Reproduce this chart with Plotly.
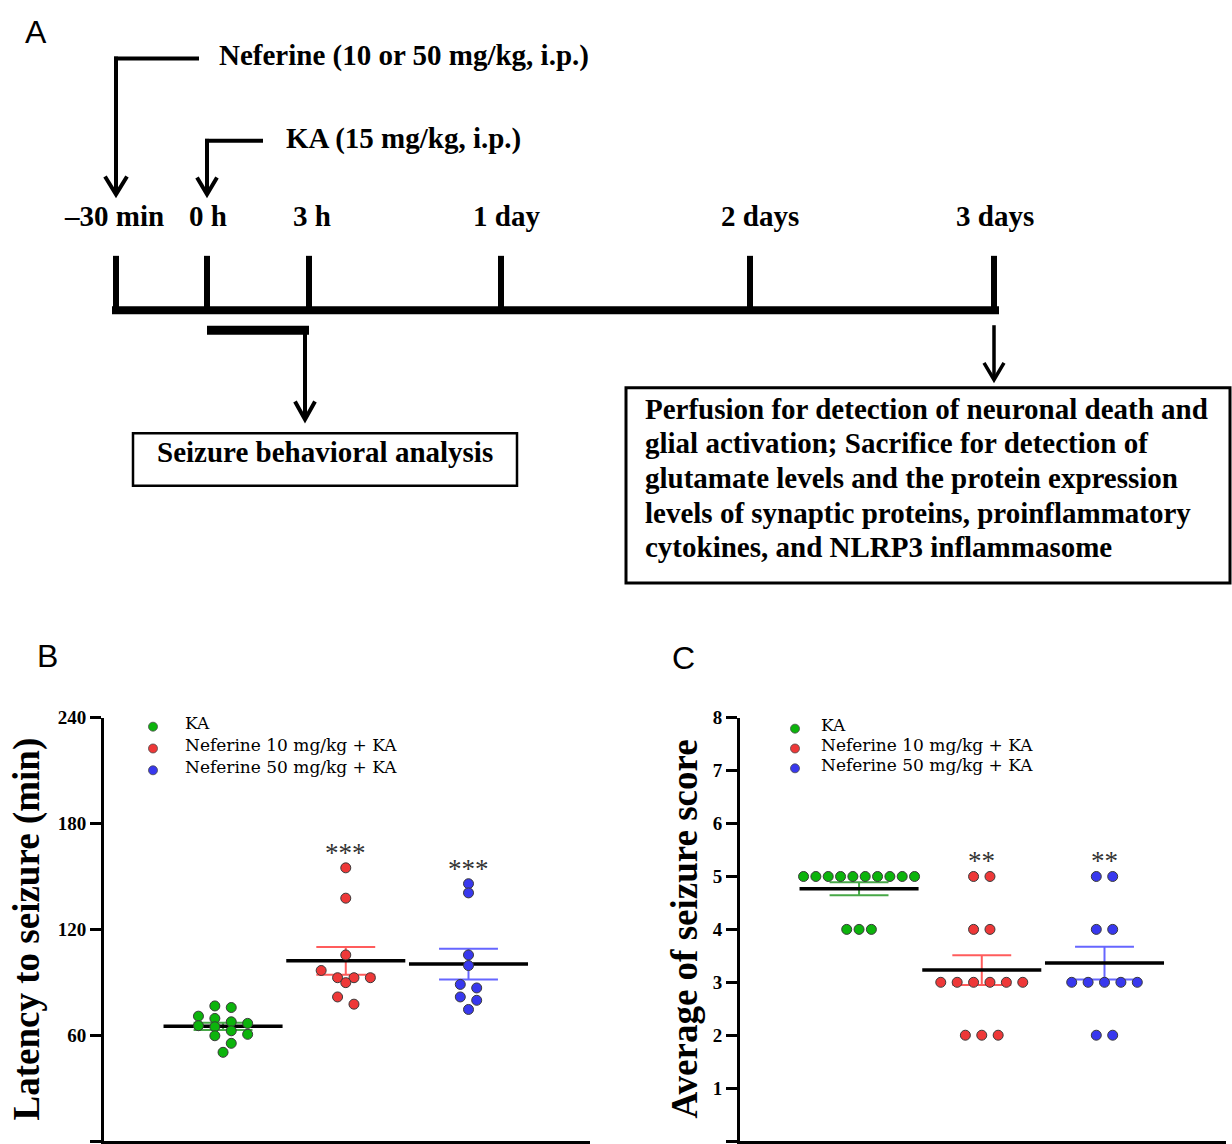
import numpy as np
import plotly.graph_objects as go

# ---------------- data ----------------
groups = ["KA", "Neferine 10 mg/kg + KA", "Neferine 50 mg/kg + KA"]

latency_ka = [76.6, 75.7, 70.8, 69.5, 67.6, 66.7, 65.4, 64.8, 62.5, 60.5, 59.7, 55.4, 50.3]
latency_nef10 = [154.9, 137.7, 105.5, 96.7, 92.6, 92.6, 92.6, 89.8, 81.7, 77.6]
latency_nef50 = [145.9, 140.7, 105.5, 99.5, 88.8, 86.8, 81.7, 79.8, 74.6]

score_ka = [5, 5, 5, 5, 5, 5, 5, 5, 5, 5, 4, 4, 4]
score_nef10 = [5, 5, 4, 4, 3, 3, 3, 3, 3, 3, 2, 2, 2]
score_nef50 = [5, 5, 4, 4, 3, 3, 3, 3, 3, 2, 2]

latency_ticks = [0, 60, 120, 180, 240]
score_ticks = [0, 1, 2, 3, 4, 5, 6, 7, 8]
latency_sig = ["", "***", "***"]
score_sig = ["", "**", "**"]

timeline_labels = ["\u201330 min", "0 h", "3 h", "1 day", "2 days", "3 days"]
box_lines = [
    "Perfusion for detection of neuronal death and",
    "glial activation; Sacrifice for detection of",
    "glutamate levels and the protein expression",
    "levels of synaptic proteins, proinflammatory",
    "cytokines, and NLRP3 inflammasome",
]

# ---------------- styling / layout ----------------
W, H = 1232, 1144
colors = ["#0CB40C", "#EE3838", "#3838EE"]
err_colors = ["#48A848", "#FF5C5C", "#6666FF"]
SERIF = "Liberation Serif"
WIDE_SERIF = "DejaVu Serif"
SANS = "Liberation Sans"


def fx(x):
    return x / W


def fy(y):
    return 1 - y / H


fig = go.Figure()
shapes = []
annotations = []


def seg(x0, y0, x1, y1, w, color="black"):
    shapes.append(dict(type="line", xref="paper", yref="paper",
                       x0=fx(x0), y0=fy(y0), x1=fx(x1), y1=fy(y1),
                       line=dict(color=color, width=w)))


def vhead(xt, yt, dx, dy, w):
    path = "M {} {} L {} {} L {} {}".format(fx(xt - dx), fy(yt - dy), fx(xt), fy(yt), fx(xt + dx), fy(yt - dy))
    shapes.append(dict(type="path", xref="paper", yref="paper", path=path,
                       line=dict(color="black", width=w)))


def rect(x0, y0, x1, y1, w):
    shapes.append(dict(type="rect", xref="paper", yref="paper",
                       x0=fx(x0), y0=fy(y1), x1=fx(x1), y1=fy(y0),
                       line=dict(color="black", width=w), fillcolor="rgba(0,0,0,0)"))


def text(x, y, s, size, family=SERIF, bold=True, xanchor="left", angle=0, color="black"):
    # shift so that the visual centre of the glyphs sits on y
    dy = 0 if angle else -0.27 * size
    annotations.append(dict(xref="paper", yref="paper", x=fx(x), y=fy(y + dy), text=s,
                            showarrow=False, xanchor=xanchor, yanchor="middle",
                            textangle=angle,
                            font=dict(family=family, size=size, color=color,
                                      weight="bold" if bold else "normal")))


# ---------- Panel A (schematic) ----------
text(36, 31, "A", 32, family=SANS, bold=False, xanchor="center")

seg(114, 49, 199, 49, 4)
seg(116, 47, 116, 183, 4)
vhead(116, 186, 11, 18, 4)
text(217, 54, "Neferine (10 or 50 mg/kg, i.p.)", 29)

seg(205, 132, 263, 132, 4)
seg(207, 130, 207, 183, 4)
vhead(207, 186, 10, 17, 4)
text(284, 137, "KA (15 mg/kg, i.p.)", 29)

tick_x = [116, 207, 309, 501, 750, 994]
label_x = [114, 208, 312, 506, 760, 995]
seg(112, 303, 999, 303, 8)
for tx, lx, lab in zip(tick_x, label_x, timeline_labels):
    seg(tx, 248, tx, 303, 6)
    text(lx, 216, lab, 29, xanchor="center")

seg(207, 323, 309, 323, 9)
seg(305, 320, 305, 410, 4)
vhead(305, 413, 10, 18, 4)
rect(133, 427, 517, 480, 2.5)
text(325, 454, "Seizure behavioral analysis", 29, xanchor="center")

seg(994, 318, 994, 370, 3.5)
vhead(994, 373, 10, 17, 3.5)
rect(626, 381, 1230, 578, 3)
for k, line in enumerate(box_lines):
    text(643, 410 + 35 * k, line, 29)

# ---------- Panels B and C ----------
XR = [-0.97, 2.99]
PLOT_TOP, PLOT_BOTTOM = 714, 1141

panels = [
    dict(xa="x", ya="y", xkey="xaxis", ykey="yaxis", left=104, right=590,
         data=[latency_ka, latency_nef10, latency_nef50], sig=latency_sig,
         ticks=latency_ticks, title="Latency to seizure (min)", title_x=27,
         label="B", label_xy=(47, 660),
         leg_mx=153, leg_tx=183, leg_y=[723, 745, 767]),
    dict(xa="x2", ya="y2", xkey="xaxis2", ykey="yaxis2", left=740, right=1226,
         data=[score_ka, score_nef10, score_nef50], sig=score_sig,
         ticks=score_ticks, title="Average of seizure score", title_x=684,
         label="C", label_xy=(683, 662),
         leg_mx=795, leg_tx=819, leg_y=[725, 745, 765]),
]


def swarm_offsets(vals, px_per_unit, units_per_px_x, thresh_px=9.0, step_px=16.4, max_w_px=111.0):
    n = len(vals)
    order = sorted(range(n), key=lambda i: -vals[i])
    rows, cur, first = [], [order[0]], vals[order[0]]
    for i in order[1:]:
        if (first - vals[i]) * px_per_unit < thresh_px:
            cur.append(i)
        else:
            rows.append(cur)
            cur, first = [i], vals[i]
    rows.append(cur)
    maxn = max(len(r) for r in rows)
    step = step_px if maxn < 2 else min(step_px, max_w_px / (maxn - 1))
    offs = [0.0] * n
    for r in rows:
        k = len(r)
        for j, i in enumerate(r):
            offs[i] = (j - (k - 1) / 2) * step * units_per_px_x
    return offs


for p in panels:
    ymax = p["ticks"][-1]
    px_per_unit = (PLOT_BOTTOM - PLOT_TOP) / ymax
    units_per_px_x = (XR[1] - XR[0]) / (p["right"] - p["left"])
    for gi, vals in enumerate(p["data"]):
        v = np.array(vals, dtype=float)
        m = v.mean()
        sem = v.std(ddof=1) / np.sqrt(len(v))
        cap = 0.24
        fig.add_trace(go.Scatter(
            x=[gi, gi, None, gi - cap, gi + cap, None, gi - cap, gi + cap],
            y=[m - sem, m + sem, None, m + sem, m + sem, None, m - sem, m - sem],
            mode="lines", line=dict(color=err_colors[gi], width=2),
            xaxis=p["xa"], yaxis=p["ya"], showlegend=False, hoverinfo="skip"))
        fig.add_trace(go.Scatter(
            x=[gi - 0.485, gi + 0.485], y=[m, m], mode="lines",
            line=dict(color="black", width=3.5),
            xaxis=p["xa"], yaxis=p["ya"], showlegend=False, hoverinfo="skip"))
    for gi, vals in enumerate(p["data"]):
        offs = swarm_offsets(vals, px_per_unit, units_per_px_x)
        fig.add_trace(go.Scatter(
            x=[gi + o for o in offs], y=vals, mode="markers", name=groups[gi],
            marker=dict(size=10, color=colors[gi], line=dict(color="#3a3a3a", width=1)),
            xaxis=p["xa"], yaxis=p["ya"], showlegend=False))
        if p["sig"][gi]:
            annotations.append(dict(xref=p["xa"], yref=p["ya"], x=gi, y=max(vals),
                                    text=p["sig"][gi], showarrow=False, yshift=15,
                                    xanchor="center", yanchor="middle",
                                    font=dict(family=SERIF, size=27, color="#333333")))
    for gi, g in enumerate(groups):
        yl = p["leg_y"][gi]
        shapes.append(dict(type="circle", xref="paper", yref="paper",
                           xsizemode="pixel", ysizemode="pixel",
                           xanchor=fx(p["leg_mx"]), yanchor=fy(yl),
                           x0=-4.5, x1=4.5, y0=-4.5, y1=4.5,
                           fillcolor=colors[gi], line=dict(color="#4a4a4a", width=0.8)))
        text(p["leg_tx"], yl + 1, g, 17, family=WIDE_SERIF, bold=False)
    text(p["title_x"], (PLOT_TOP + PLOT_BOTTOM) / 2, p["title"], 37, xanchor="center", angle=-90)
    text(p["label_xy"][0], p["label_xy"][1], p["label"], 32, family=SANS, bold=False, xanchor="center")

    fig.layout[p["xkey"]] = dict(
        domain=[fx(p["left"]), fx(p["right"])], range=XR, anchor=p["ya"],
        showline=True, linecolor="black", linewidth=3, showticklabels=False,
        ticks="", showgrid=False, zeroline=False, fixedrange=True)
    fig.layout[p["ykey"]] = dict(
        domain=[fy(PLOT_BOTTOM), fy(PLOT_TOP)], range=[0, ymax], anchor=p["xa"],
        tickvals=p["ticks"], ticks="outside", ticklen=11, tickwidth=3, tickcolor="black",
        showline=True, linecolor="black", linewidth=3, showgrid=False, zeroline=False,
        tickfont=dict(family=SERIF, size=19, color="black", weight="bold"), fixedrange=True)

fig.update_layout(
    width=W, height=H, margin=dict(l=0, r=0, t=0, b=0),
    paper_bgcolor="white", plot_bgcolor="rgba(0,0,0,0)",
    showlegend=False, shapes=shapes, annotations=annotations)

post = ("document.documentElement.style.margin='0';"
        "document.documentElement.style.overflow='hidden';"
        "document.body.style.margin='0';document.body.style.padding='0';"
        "document.body.style.overflow='hidden';"
        "var gd=document.getElementById('{plot_id}');"
        "gd.style.position='absolute';gd.style.left='0px';gd.style.top='0px';")

fig.write_html("out.html", post_script=post, config={"displayModeBar": False})
